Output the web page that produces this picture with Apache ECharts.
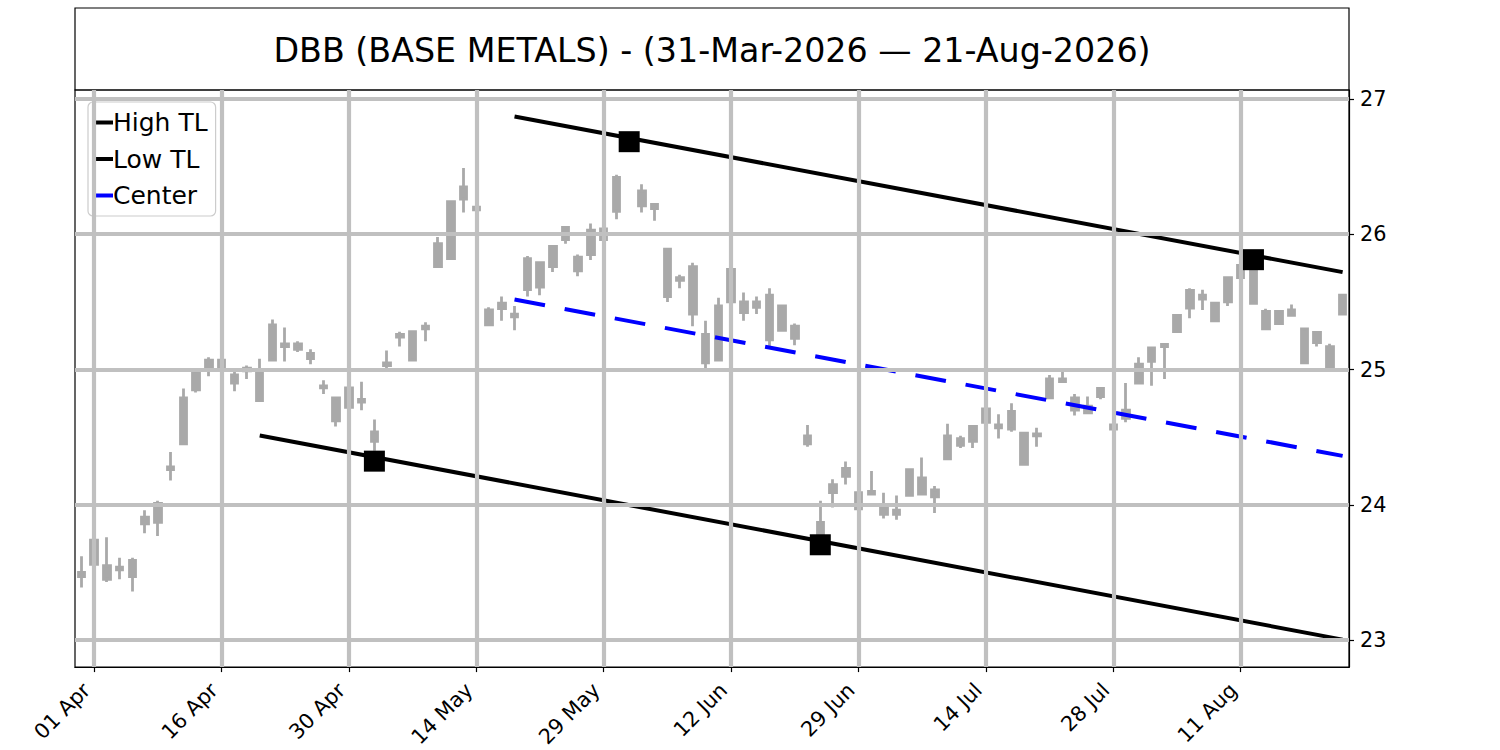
<!DOCTYPE html>
<html>
<head>
<meta charset="utf-8">
<script src="https://cdn.jsdelivr.net/npm/echarts@6/dist/echarts.min.js"></script>
<style>
html,body{margin:0;padding:0;background:#ffffff;}
#chart{width:1500px;height:750px;}
</style>
</head>
<body>
<div id="chart"></div>
<script>
// Trading days 31-Mar-2026 .. 21-Aug-2026
const dates = [
 '31 Mar',
 '01 Apr','02 Apr','06 Apr','07 Apr','08 Apr','09 Apr','10 Apr','13 Apr','14 Apr','15 Apr','16 Apr','17 Apr','20 Apr','21 Apr','22 Apr','23 Apr','24 Apr','27 Apr','28 Apr','29 Apr','30 Apr',
 '01 May','04 May','05 May','06 May','07 May','08 May','11 May','12 May','13 May','14 May','15 May','18 May','19 May','20 May','21 May','22 May','26 May','27 May','28 May','29 May',
 '01 Jun','02 Jun','03 Jun','04 Jun','05 Jun','08 Jun','09 Jun','10 Jun','11 Jun','12 Jun','15 Jun','16 Jun','17 Jun','18 Jun','22 Jun','23 Jun','24 Jun','25 Jun','26 Jun','29 Jun','30 Jun',
 '01 Jul','02 Jul','06 Jul','07 Jul','08 Jul','09 Jul','10 Jul','13 Jul','14 Jul','15 Jul','16 Jul','17 Jul','20 Jul','21 Jul','22 Jul','23 Jul','24 Jul','27 Jul','28 Jul','29 Jul','30 Jul','31 Jul',
 '03 Aug','04 Aug','05 Aug','06 Aug','07 Aug','10 Aug','11 Aug','12 Aug','13 Aug','14 Aug','17 Aug','18 Aug','19 Aug','20 Aug','21 Aug'
];

// Candle body bottom / top, and wick low / high
const bodyLow = [
 23.47,23.56,23.45,23.52,23.47,23.86,23.87,24.26,24.45,24.85,
 25.00,25.00,24.90,24.99,24.77,25.07,25.17,25.15,25.08,24.865,
 24.62,24.72,24.76,24.47,25.03,25.24,25.07,25.30,25.76,25.82,
 26.26,26.18,25.33,25.45,25.39,25.59,25.61,25.76,25.96,25.73,
 25.85,25.96,26.17,26.64,26.21,26.19,25.54,25.66,25.41,25.05,
 25.07,25.50,25.42,25.46,25.22,25.29,25.23,24.45,23.75,24.09,
 24.21,23.97,24.08,23.93,23.93,24.07,24.08,24.06,24.34,24.44,
 24.47,24.61,24.57,24.56,24.30,24.51,24.79,24.91,24.70,24.68,
 24.80,24.56,24.64,24.90,25.06,25.17,25.28,25.455,25.52,25.36,
 25.50,25.68,25.49,25.30,25.34,25.40,25.05,25.20,25.00,25.41
];
const bodyHigh = [
 23.50,23.74,23.55,23.54,23.59,23.91,24.01,24.28,24.79,24.99,
 25.07,25.07,24.96,25.01,25.00,25.33,25.19,25.19,25.12,24.88,
 24.79,24.865,24.78,24.54,25.05,25.26,25.28,25.32,25.93,26.24,
 26.35,26.20,25.44,25.49,25.41,25.82,25.79,25.91,26.05,25.83,
 26.03,26.04,26.42,26.70,26.32,26.22,25.89,25.68,25.76,25.26,
 25.47,25.74,25.50,25.50,25.55,25.47,25.32,24.51,23.87,24.15,
 24.27,24.09,24.10,23.99,23.96,24.26,24.20,24.11,24.51,24.49,
 24.58,24.71,24.59,24.69,24.53,24.525,24.93,24.93,24.79,24.73,
 24.86,24.59,24.70,25.04,25.16,25.185,25.40,25.585,25.55,25.49,
 25.68,25.77,25.78,25.43,25.43,25.44,25.30,25.275,25.17,25.55
];
const wickLow = [
 23.39,23.51,23.43,23.45,23.36,23.79,23.77,24.18,24.45,24.83,
 24.95,24.93,24.84,24.93,24.77,25.07,25.06,25.13,25.04,24.82,
 24.58,24.64,24.70,24.40,25.00,25.17,25.07,25.21,25.75,25.82,
 26.16,26.05,25.32,25.36,25.29,25.54,25.55,25.72,25.93,25.69,
 25.81,25.88,26.11,26.62,26.16,26.10,25.50,25.60,25.32,25.01,
 25.06,25.50,25.36,25.41,25.17,25.28,25.18,24.43,23.71,23.98,
 24.15,23.88,24.08,23.90,23.89,24.07,24.07,23.94,24.34,24.42,
 24.42,24.59,24.49,24.54,24.29,24.43,24.79,24.90,24.66,24.68,
 24.78,24.50,24.61,24.89,24.88,24.93,25.27,25.38,25.44,25.36,
 25.47,25.64,25.49,25.30,25.34,25.40,25.05,25.17,25.00,25.41
];
const wickHigh = [
 23.62,23.80,23.76,23.61,23.61,23.96,24.03,24.39,24.86,25.00,
 25.09,25.12,25.00,25.03,25.08,25.37,25.31,25.21,25.15,24.92,
 24.79,24.89,24.91,24.63,25.14,25.28,25.29,25.35,25.98,26.24,
 26.49,26.21,25.46,25.54,25.47,25.84,25.80,25.91,26.06,25.85,
 26.08,26.05,26.44,26.72,26.37,26.23,25.89,25.70,25.79,25.36,
 25.53,25.74,25.57,25.54,25.60,25.47,25.34,24.59,24.03,24.19,
 24.32,24.10,24.25,24.09,24.07,24.26,24.35,24.14,24.60,24.51,
 24.58,24.80,24.67,24.75,24.53,24.57,24.96,25.01,24.82,24.80,
 24.865,24.68,24.90,25.09,25.16,25.19,25.40,25.60,25.59,25.49,
 25.68,25.77,25.82,25.45,25.44,25.48,25.30,25.28,25.19,25.55
];

// Trend lines (index into dates, price)
const highTLIdx = [34, 99];
const highTLVal = [26.87, 25.72];
const lowTLIdx = [14, 99];
const lowTLVal = [24.513, 23.004];
const centerIdx = [34, 99];
const centerVal = [25.518, 24.362];

// Pivot markers
const pivotIdx = [23, 43, 58, 92];
const pivotVal = [24.323, 26.684, 23.705, 25.812];

// Axis ticks
const xTickIdx = [1, 11, 21, 31, 41, 51, 61, 71, 81, 91];
const yTicks = [23, 24, 25, 26, 27];

const FONT = 'DejaVu Sans';
const candleData = dates.map((d, i) => [bodyLow[i], bodyHigh[i], wickLow[i], wickHigh[i]]);
const pairs = (xs, ys) => xs.map((x, i) => [x, ys[i]]);
const isTick = (i) => xTickIdx.indexOf(i) >= 0;

const chart = echarts.init(document.getElementById('chart'), null, {renderer: 'svg', width: 1500, height: 750});
chart.setOption({
  animation: false,
  backgroundColor: '#ffffff',
  title: {
    text: 'DBB (BASE METALS) - (31-Mar-2026 \u2014 21-Aug-2026)',
    left: 712, top: 34, textAlign: 'center', padding: 0,
    textStyle: {fontFamily: FONT, fontSize: 33.3, fontWeight: 'normal', color: '#000'}
  },
  graphic: [{
    type: 'rect', shape: {x: 75, y: 8, width: 1274, height: 82},
    style: {fill: 'none', stroke: '#000', lineWidth: 1.2}, silent: true
  }],
  legend: {
    data: ['High TL', 'Low TL', 'Center'],
    orient: 'vertical', left: 88, top: 102,
    padding: [8, 8, 8, 8], itemGap: 11.5, itemWidth: 17, itemHeight: 4,
    icon: 'rect',
    backgroundColor: 'rgba(255,255,255,0.8)', borderColor: '#cccccc', borderWidth: 1.2, borderRadius: 5,
    textStyle: {fontFamily: FONT, fontSize: 25, color: '#000', lineHeight: 25, padding: [0, 0, 0, -5]}
  },
  grid: {left: 75, right: 151, top: 90, bottom: 82, show: true, borderColor: '#000', borderWidth: 1.2, backgroundColor: 'transparent'},
  xAxis: {
    type: 'category', data: dates, boundaryGap: true,
    axisLine: {show: true, lineStyle: {color: '#000', width: 1.2}},
    axisTick: {show: true, alignWithLabel: true, interval: (i) => isTick(i), length: 5, lineStyle: {color: '#000', width: 1.2}},
    axisLabel: {show: true, interval: (i) => isTick(i), rotate: 45, margin: 27, verticalAlign: 'bottom', fontFamily: FONT, fontSize: 20.8, color: '#000'},
    splitLine: {show: false}
  },
  yAxis: {
    type: 'value', position: 'right', min: 22.801, max: 27.066, scale: true,
    axisLine: {show: true, lineStyle: {color: '#000', width: 1.2}},
    axisTick: {show: true, length: 5, lineStyle: {color: '#000', width: 1.2}, customValues: yTicks},
    axisLabel: {show: true, margin: 11, fontFamily: FONT, fontSize: 20.8, color: '#000', customValues: yTicks},
    splitLine: {show: false}
  },
  series: [
    {
      name: 'grid', type: 'line', data: [], z: 1, silent: true,
      markLine: {
        silent: true, symbol: ['none', 'none'], label: {show: false}, animation: false,
        lineStyle: {color: '#c0c0c0', width: 4.2, type: 'solid'},
        emphasis: {disabled: true},
        data: yTicks.map(v => ({yAxis: v})).concat(xTickIdx.map(i => ({xAxis: dates[i]})))
      }
    },
    {
      name: 'DBB', type: 'candlestick', data: candleData, z: 3, barWidth: 7,
      itemStyle: {color: '#a9a9a9', color0: '#a9a9a9', borderColor: '#a9a9a9', borderColor0: '#a9a9a9', borderWidth: 2.8}
    },
    {
      name: 'High TL', type: 'line', data: pairs(highTLIdx, highTLVal), z: 4, color: '#000',
      showSymbol: false, symbol: 'none', lineStyle: {color: '#000', width: 4}
    },
    {
      name: 'Low TL', type: 'line', data: pairs(lowTLIdx, lowTLVal), z: 4, color: '#000',
      showSymbol: false, symbol: 'none', lineStyle: {color: '#000', width: 4}
    },
    {
      name: 'Center', type: 'line', data: pairs(centerIdx, centerVal), z: 4, color: '#0000ff',
      showSymbol: false, symbol: 'none', lineStyle: {color: '#0000ff', width: 4, type: [31, 20]}
    },
    {
      name: 'Pivots', type: 'scatter', data: pairs(pivotIdx, pivotVal), z: 5,
      symbol: 'rect', symbolSize: 21, itemStyle: {color: '#000', opacity: 1}
    }
  ]
});
</script>
</body>
</html>
